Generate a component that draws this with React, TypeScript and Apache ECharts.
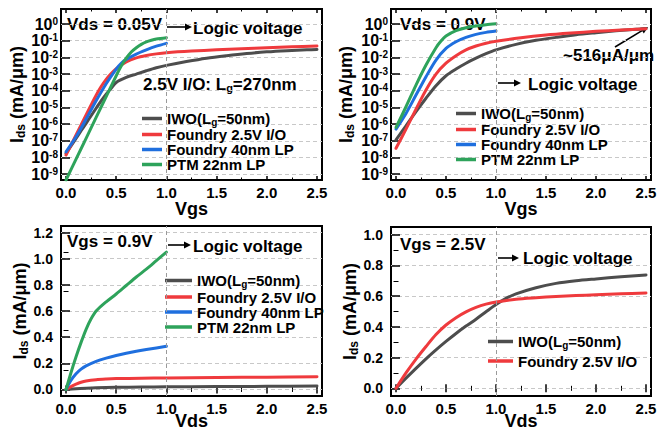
import React, { useEffect, useRef } from 'react';
import * as echarts from 'echarts';

const FONT = "'Liberation Sans', Arial, Helvetica, sans-serif";

const SERIES_NAMES = ['IWO(Lg=50nm)', 'Foundry 2.5V I/O', 'Foundry 40nm LP', 'PTM 22nm LP'];
const SERIES_COLORS = ['#4d4d4d', '#ef3a3d', '#1f6fde', '#2ea35b'];
const LEGEND_RICH: Record<string, string> = {
  'IWO(Lg=50nm)': '{t|IWO(L}{s|g}{t|=50nm)}',
  'Foundry 2.5V I/O': '{t|Foundry 2.5V I/O}',
  'Foundry 40nm LP': '{t|Foundry 40nm LP}',
  'PTM 22nm LP': '{t|PTM 22nm LP}',
};

// Tick values
const X_TICKS = [0, 0.5, 1.0, 1.5, 2.0, 2.5];
const LOG_TICKS = [1e-9, 1e-8, 1e-7, 1e-6, 1e-5, 1e-4, 1e-3, 1e-2, 1e-1, 1];
const LIN_TICKS_C = [0, 0.2, 0.4, 0.6, 0.8, 1.0, 1.2];
const LIN_TICKS_D = [0, 0.2, 0.4, 0.6, 0.8, 1.0];

// Panel A: Ids-Vgs at Vds = 0.05 V (mA/um)
const aIwoX = [0, 0.05, 0.1, 0.15, 0.2, 0.25, 0.3, 0.35, 0.4, 0.45, 0.5, 0.6, 0.7, 0.8, 0.9, 1.0, 1.2, 1.4, 1.6, 1.8, 2.0, 2.2, 2.4, 2.5];
const aIwoY = [1.78e-8, 5.01e-8, 1.41e-7, 3.98e-7, 1.12e-6, 3.16e-6, 8.91e-6, 2.51e-5, 6.31e-5, 1.41e-4, 3.16e-4, 6.31e-4, 1.0e-3, 1.58e-3, 2.4e-3, 3.31e-3, 5.62e-3, 8.91e-3, 1.26e-2, 1.7e-2, 2.14e-2, 2.51e-2, 2.82e-2, 2.95e-2];
const aIoX = [0, 0.05, 0.1, 0.15, 0.2, 0.25, 0.3, 0.35, 0.4, 0.45, 0.5, 0.6, 0.7, 0.8, 0.9, 1.0, 1.25, 1.5, 1.75, 2.0, 2.25, 2.5];
const aIoY = [1.41e-8, 5.62e-8, 2.24e-7, 8.91e-7, 3.55e-6, 1.41e-5, 5.37e-5, 1.78e-4, 4.79e-4, 1.07e-3, 2.09e-3, 5.37e-3, 9.33e-3, 1.29e-2, 1.62e-2, 1.91e-2, 2.4e-2, 2.82e-2, 3.24e-2, 3.72e-2, 4.27e-2, 4.79e-2];
const aLpX = [0, 0.1, 0.2, 0.3, 0.4, 0.5, 0.55, 0.6, 0.7, 0.8, 0.9, 1.0];
const aLpY = [2.19e-8, 1.74e-7, 2.0e-6, 2.51e-5, 2.63e-4, 2.0e-3, 4.37e-3, 7.59e-3, 1.58e-2, 2.82e-2, 4.68e-2, 6.92e-2];
const aPtmX = [0, 0.1, 0.2, 0.3, 0.4, 0.5, 0.55, 0.6, 0.65, 0.7, 0.75, 0.8, 0.85, 0.9, 1.0];
const aPtmY = [4.47e-10, 7.94e-9, 1.41e-7, 2.51e-6, 4.47e-5, 7.94e-4, 3.02e-3, 8.91e-3, 2.09e-2, 3.8e-2, 6.03e-2, 8.51e-2, 0.107, 0.126, 0.151];

// Panel B: Ids-Vgs at Vds = 0.9 V
const bIwoX = [0, 0.1, 0.2, 0.3, 0.4, 0.5, 0.6, 0.7, 0.8, 0.9, 1.0, 1.2, 1.4, 1.6, 1.8, 2.0, 2.2, 2.4, 2.5];
const bIwoY = [1.12e-7, 7.94e-7, 5.62e-6, 3.55e-5, 2.0e-4, 7.94e-4, 2.0e-3, 4.47e-3, 8.91e-3, 1.66e-2, 2.82e-2, 6.03e-2, 0.105, 0.158, 0.229, 0.302, 0.389, 0.479, 0.516];
const bIoX = [0, 0.1, 0.2, 0.3, 0.4, 0.5, 0.6, 0.7, 0.8, 0.9, 1.0, 1.25, 1.5, 1.75, 2.0, 2.25, 2.5];
const bIoY = [3.55e-8, 5.01e-7, 7.94e-6, 1.12e-4, 1.0e-3, 4.47e-3, 1.26e-2, 2.82e-2, 4.79e-2, 7.08e-2, 9.33e-2, 0.151, 0.219, 0.288, 0.363, 0.437, 0.516];
const bLpX = [0, 0.1, 0.2, 0.3, 0.4, 0.5, 0.6, 0.7, 0.8, 0.9, 1.0];
const bLpY = [5.01e-7, 4.37e-6, 5.5e-5, 6.92e-4, 6.92e-3, 3.47e-2, 8.71e-2, 0.158, 0.24, 0.316, 0.38];
const bPtmX = [0, 0.1, 0.2, 0.3, 0.4, 0.45, 0.5, 0.6, 0.7, 0.8, 0.9, 1.0];
const bPtmY = [6.31e-7, 1.1e-5, 2.19e-4, 3.47e-3, 3.8e-2, 9.55e-2, 0.19, 0.398, 0.603, 0.759, 0.912, 1.05];

// Panel C: Ids-Vds at Vgs = 0.9 V
const cIwoX = [0, 0.1, 0.2, 0.3, 0.5, 0.75, 1.0, 1.5, 2.0, 2.5];
const cIwoY = [0, 0.006, 0.01, 0.013, 0.016, 0.018, 0.02, 0.022, 0.024, 0.026];
const cIoX = [0, 0.05, 0.1, 0.15, 0.2, 0.3, 0.4, 0.5, 0.75, 1.0, 1.5, 2.0, 2.5];
const cIoY = [0, 0.022, 0.04, 0.055, 0.065, 0.075, 0.08, 0.083, 0.086, 0.088, 0.091, 0.094, 0.097];
const cLpX = [0, 0.05, 0.1, 0.15, 0.2, 0.3, 0.4, 0.5, 0.6, 0.7, 0.8, 0.9, 1.0];
const cLpY = [0, 0.07, 0.12, 0.155, 0.18, 0.215, 0.24, 0.26, 0.277, 0.292, 0.305, 0.317, 0.33];
const cPtmX = [0, 0.05, 0.1, 0.15, 0.2, 0.25, 0.3, 0.4, 0.5, 0.6, 0.7, 0.8, 0.9, 1.0];
const cPtmY = [0, 0.13, 0.25, 0.36, 0.46, 0.54, 0.6, 0.67, 0.73, 0.795, 0.86, 0.92, 0.985, 1.05];

// Panel D: Ids-Vds at Vgs = 2.5 V
const dIwoX = [0, 0.1, 0.2, 0.3, 0.4, 0.5, 0.6, 0.7, 0.8, 0.9, 1.0, 1.1, 1.2, 1.4, 1.6, 1.8, 2.0, 2.25, 2.5];
const dIwoY = [0, 0.066, 0.13, 0.192, 0.25, 0.305, 0.357, 0.405, 0.45, 0.498, 0.545, 0.585, 0.615, 0.655, 0.683, 0.7, 0.712, 0.726, 0.738];
const dIoX = [0, 0.1, 0.2, 0.3, 0.4, 0.5, 0.6, 0.7, 0.8, 0.9, 1.0, 1.2, 1.4, 1.6, 1.8, 2.0, 2.25, 2.5];
const dIoY = [0, 0.1, 0.19, 0.272, 0.35, 0.412, 0.46, 0.498, 0.527, 0.548, 0.562, 0.58, 0.59, 0.598, 0.604, 0.609, 0.615, 0.62];

const GRIDS = [
  { left: 61, top: 9, width: 261, height: 171 },
  { left: 391, top: 9, width: 260, height: 171 },
  { left: 61, top: 226, width: 261, height: 170 },
  { left: 391, top: 227, width: 260, height: 169 },
];

const tickStyle = { color: '#000', width: 1.5 };
const boldText = (size: number) => ({ fontSize: size, fontWeight: 'bold' as const, fontFamily: FONT, color: '#000' });

function xAxisPair(gi: number, name: string, gap: number) {
  const base = {
    type: 'value', gridIndex: gi, min: -0.05, max: 2.55,
    axisLine: { show: false },
    splitLine: { show: false },
    axisTick: { show: true, inside: true, length: 4, lineStyle: tickStyle, customValues: X_TICKS },
    minorTick: { show: true, splitNumber: 2, length: 2.5, lineStyle: { color: '#000', width: 1 } },
  };
  return [
    {
      ...base, position: 'bottom', name, nameLocation: 'middle', nameGap: gap, nameMoveOverlap: false,
      nameTextStyle: { ...boldText(18), lineHeight: 18 },
      axisLabel: { ...boldText(15), margin: 5, customValues: X_TICKS, formatter: (v: number) => v.toFixed(1) },
    },
    { ...base, position: 'top', axisLabel: { show: false } },
  ];
}

const yNameRich = {
  i: { ...boldText(18), lineHeight: 20 },
  t: { ...boldText(18), lineHeight: 20 },
  s: { ...boldText(12), lineHeight: 6, verticalAlign: 'bottom' },
};

function yAxisPair(gi: number, log: boolean, ticks: number[], max: number, gap: number) {
  const base: any = log
    ? { type: 'log', logBase: 10, min: 4.47e-10, max: 7.94, minorTick: { show: false } }
    : { type: 'value', min: -0.05, max, minorTick: { show: true, splitNumber: 2, length: 2.5, lineStyle: { color: '#000', width: 1 } } };
  Object.assign(base, {
    gridIndex: gi,
    axisLine: { show: false },
    axisTick: { show: true, inside: true, length: 4, lineStyle: tickStyle, customValues: ticks },
  });
  const label = log
    ? {
        customValues: ticks, margin: 3,
        formatter: (v: number) => `{b|10}{s|${Math.round(Math.log10(v))}}`,
        rich: { b: { ...boldText(16), lineHeight: 16 }, s: { ...boldText(10), lineHeight: 8, verticalAlign: 'top' } },
      }
    : { ...boldText(14), customValues: ticks, margin: 8, formatter: (v: number) => v.toFixed(1) };
  return [
    {
      ...base, position: 'left', name: '{i|I}{s|ds}{t| (mA/μm)}', nameLocation: 'middle', nameGap: gap,
      nameTextStyle: { ...boldText(18), rich: yNameRich },
      axisLabel: label,
      splitLine: { show: true, lineStyle: { type: [4, 3], color: '#c8c8c8', width: 1 } },
    },
    { ...base, position: 'right', axisLabel: { show: false }, splitLine: { show: false } },
  ];
}

function line(name: string, xs: number[], ys: number[], gi: number, withMark = false) {
  const color = SERIES_COLORS[SERIES_NAMES.indexOf(name)];
  const s: any = {
    type: 'line', name, xAxisIndex: gi, yAxisIndex: gi,
    data: xs.map((x, i) => [x, ys[i]]),
    symbol: 'none', showSymbol: false, smooth: 0.3,
    lineStyle: { width: 3, color, cap: 'round', join: 'round' }, itemStyle: { color },
  };
  if (withMark) {
    s.markLine = {
      silent: true, symbol: 'none', label: { show: false },
      lineStyle: { type: [4, 3], color: '#9a9a9a', width: 1 },
      data: [{ xAxis: 1 }],
    };
  }
  return s;
}

function legend(left: number, top: number, names: string[], itemWidth: number, lh: number, gap: number) {
  return {
    left, top, orient: 'vertical', itemWidth, itemHeight: 3.5, itemGap: gap, icon: 'rect',
    data: names, selectedMode: false,
    formatter: (n: string) => LEGEND_RICH[n],
    textStyle: {
      ...boldText(15),
      rich: {
        t: { ...boldText(15), lineHeight: lh },
        s: { ...boldText(10), lineHeight: 4, verticalAlign: 'bottom' },
      },
    },
  };
}

function txt(x: number, y: number, text: string, size = 17, rich?: any) {
  return {
    type: 'text', x, y,
    style: { text, fill: '#000', fontSize: size, fontWeight: 'bold', fontFamily: FONT, align: 'left', verticalAlign: 'middle', rich },
  };
}

function arrow(x1: number, y1: number, x2: number, y2: number) {
  const ang = Math.atan2(y2 - y1, x2 - x1);
  const hl = 7, hw = 3.5;
  const bx = x2 - hl * Math.cos(ang), by = y2 - hl * Math.sin(ang);
  const px = -Math.sin(ang) * hw, py = Math.cos(ang) * hw;
  return [
    { type: 'line', shape: { x1, y1, x2: bx + Math.cos(ang), y2: by + Math.sin(ang) }, style: { stroke: '#000', lineWidth: 1.6 } },
    { type: 'polygon', shape: { points: [[x2, y2], [bx + px, by + py], [bx - px, by - py]] }, style: { fill: '#000' } },
  ];
}

const subRich = {
  a: { ...boldText(17), fill: '#000', lineHeight: 18 },
  s: { ...boldText(11), fill: '#000', lineHeight: 5, verticalAlign: 'bottom' },
};

export default function App() {
  const ref = useRef<HTMLDivElement>(null);
  useEffect(() => {
    if (!ref.current) return;
    const chart = echarts.init(ref.current, undefined, { renderer: 'svg' });
    const xAxes = [
      ...xAxisPair(0, 'Vgs', 20), ...xAxisPair(1, 'Vgs', 20), ...xAxisPair(2, 'Vds', 16), ...xAxisPair(3, 'Vds', 16),
    ];
    const yAxes = [
      ...yAxisPair(0, true, LOG_TICKS, 0, 34), ...yAxisPair(1, true, LOG_TICKS, 0, 35),
      ...yAxisPair(2, false, LIN_TICKS_C, 1.25, 30), ...yAxisPair(3, false, LIN_TICKS_D, 1.05, 27),
    ];
    // bottom/left axes first (0-3), mirrored top/right axes after (4-7)
    const xOrdered = [0, 2, 4, 6].map((i) => xAxes[i]).concat([1, 3, 5, 7].map((i) => xAxes[i]));
    const yOrdered = [0, 2, 4, 6].map((i) => yAxes[i]).concat([1, 3, 5, 7].map((i) => yAxes[i]));

    const option: any = {
      animation: false,
      backgroundColor: '#fff',
      grid: GRIDS.map((g) => ({ ...g, show: true, borderColor: '#000', borderWidth: 2, backgroundColor: 'transparent', containLabel: false, outerBoundsMode: 'none' })),
      xAxis: xOrdered,
      yAxis: yOrdered,
      legend: [
        legend(137, 106, SERIES_NAMES, 20, 17, 0),
        legend(451, 101, SERIES_NAMES, 20, 17, 0),
        legend(160, 268, SERIES_NAMES, 27, 18, 0),
        legend(483, 329, SERIES_NAMES.slice(0, 2), 25, 18, 3),
      ],
      series: [
        line(SERIES_NAMES[0], aIwoX, aIwoY, 0, true),
        line(SERIES_NAMES[1], aIoX, aIoY, 0),
        line(SERIES_NAMES[2], aLpX, aLpY, 0),
        line(SERIES_NAMES[3], aPtmX, aPtmY, 0),
        line(SERIES_NAMES[0], bIwoX, bIwoY, 1, true),
        line(SERIES_NAMES[1], bIoX, bIoY, 1),
        line(SERIES_NAMES[2], bLpX, bLpY, 1),
        line(SERIES_NAMES[3], bPtmX, bPtmY, 1),
        line(SERIES_NAMES[0], cIwoX, cIwoY, 2, true),
        line(SERIES_NAMES[1], cIoX, cIoY, 2),
        line(SERIES_NAMES[2], cLpX, cLpY, 2),
        line(SERIES_NAMES[3], cPtmX, cPtmY, 2),
        line(SERIES_NAMES[0], dIwoX, dIwoY, 3, true),
        line(SERIES_NAMES[1], dIoX, dIoY, 3),
      ],
      graphic: [
        txt(67, 24, 'Vds = 0.05V'),
        ...arrow(167, 27, 192, 27),
        txt(193, 28.5, 'Logic voltage'),
        txt(143, 84, '{a|2.5V I/O: L}{s|g}{a|=270nm}', 17, subRich),
        txt(400, 24, 'Vds = 0.9V'),
        txt(563, 55.5, '~516μA/μm'),
        ...arrow(615, 47, 648, 27),
        ...arrow(498, 83, 521, 83),
        txt(528, 84, 'Logic voltage'),
        txt(67, 241, 'Vgs = 0.9V'),
        ...arrow(168, 245, 191, 245),
        txt(193, 246, 'Logic voltage'),
        txt(400, 244, 'Vgs = 2.5V'),
        ...arrow(498, 258, 519, 258),
        txt(523, 258.5, 'Logic voltage'),
      ],
    };
    chart.setOption(option);
    return () => chart.dispose();
  }, []);
  return (
    <div
      ref={ref}
      style={{ position: 'absolute', left: 0, top: 0, width: 657, height: 432, background: '#fff' }}
    />
  );
}
